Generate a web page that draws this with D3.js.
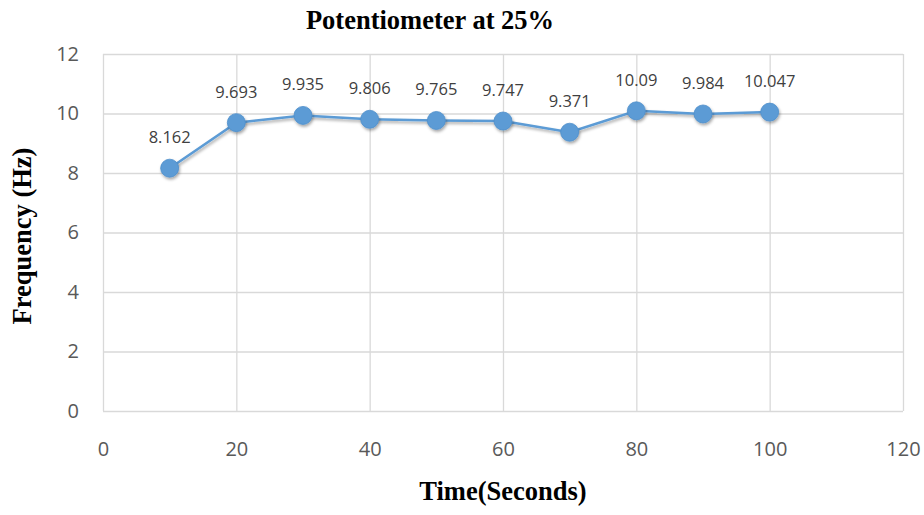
<!DOCTYPE html>
<html>
<head>
<meta charset="utf-8">
<script src="https://cdn.jsdelivr.net/npm/d3@7"></script>
<style>
  body { margin: 0; background: #fff; }
</style>
</head>
<body>
<div id="chart"></div>
<script>
// Chart data
const times = [10, 20, 30, 40, 50, 60, 70, 80, 90, 100];
const frequencies = [8.162, 9.693, 9.935, 9.806, 9.765, 9.747, 9.371, 10.09, 9.984, 10.047];
const xTicks = [0, 20, 40, 60, 80, 100, 120];
const yTicks = [0, 2, 4, 6, 8, 10, 12];

const data = times.map((t, i) => ({ t: t, f: frequencies[i] }));

// Dimensions
const W = 924, H = 515;
const margin = { top: 54, right: 21, bottom: 104, left: 103 };
const width = W - margin.left - margin.right;
const height = H - margin.top - margin.bottom;

const svg = d3
  .select("#chart")
  .append("svg")
  .attr("width", W)
  .attr("height", H);

const defs = svg.append("defs");
const shadow = defs.append("filter").attr("id", "shadow")
  .attr("x", "-50%").attr("y", "-50%").attr("width", "200%").attr("height", "200%");
shadow.append("feDropShadow")
  .attr("dx", 1).attr("dy", 2).attr("stdDeviation", 1.5)
  .attr("flood-color", "#000").attr("flood-opacity", 0.35);

const g = svg.append("g").attr("transform", `translate(${margin.left},${margin.top})`);

// Scales
const x = d3.scaleLinear().domain([0, 120]).range([0, width]);
const y = d3.scaleLinear().domain([0, 12]).range([height, 0]);

// Gridlines
g.append("g")
  .call(d3.axisLeft(y).tickValues(yTicks).tickSize(-width).tickFormat(""))
  .call((a) => a.select(".domain").remove())
  .selectAll("line").attr("stroke", "#d9d9d9").attr("stroke-width", 1.3);

g.append("g")
  .attr("transform", `translate(0,${height})`)
  .call(d3.axisBottom(x).tickValues(xTicks).tickSize(height).tickFormat(""))
  .call((a) => a.select(".domain").remove())
  .selectAll("line").attr("stroke", "#d9d9d9").attr("stroke-width", 1.3)
  .attr("y2", -height);

// X axis labels
const xAxis = g.append("g")
  .attr("transform", `translate(0,${height})`)
  .call(d3.axisBottom(x).tickValues(xTicks).tickSize(0).tickPadding(31));
xAxis.select(".domain").remove();
xAxis.selectAll("text")
  .style("font-family", "'Open Sans', sans-serif")
  .style("font-size", "20px")
  .attr("fill", "#595959");

// Y axis labels
const yAxis = g.append("g")
  .call(d3.axisLeft(y).tickValues(yTicks).tickSize(0).tickPadding(24));
yAxis.select(".domain").remove();
yAxis.selectAll("text")
  .style("font-family", "'Open Sans', sans-serif")
  .style("font-size", "20px")
  .attr("fill", "#595959");

// Line
const line = d3.line().x((d) => x(d.t)).y((d) => y(d.f));
g.append("path")
  .datum(data)
  .attr("fill", "none")
  .attr("stroke", "#5b9bd5")
  .attr("stroke-width", 2.5)
  .attr("filter", "url(#shadow)")
  .attr("d", line);

// Markers
g.selectAll(".dot")
  .data(data)
  .enter()
  .append("circle")
  .attr("class", "dot")
  .attr("cx", (d) => x(d.t))
  .attr("cy", (d) => y(d.f))
  .attr("r", 9)
  .attr("fill", "#5b9bd5")
  .attr("stroke", "#4f8fcb")
  .attr("stroke-width", 0.8)
  .attr("filter", "url(#shadow)");

// Data labels
g.selectAll(".lbl")
  .data(data)
  .enter()
  .append("text")
  .attr("class", "lbl")
  .attr("x", (d) => x(d.t))
  .attr("y", (d) => y(d.f) - 25)
  .attr("text-anchor", "middle")
  .style("font-family", "'Open Sans', sans-serif")
  .style("font-size", "16.5px")
  .attr("fill", "#404040")
  .text((d) => d.f);

const serif = "'Liberation Serif', 'Times New Roman', serif";

// Title
svg.append("text")
  .attr("x", 430)
  .attr("y", 29)
  .attr("text-anchor", "middle")
  .style("font-family", serif)
  .style("font-size", "26.5px")
  .style("font-weight", "bold")
  .text("Potentiometer at 25%");

// X axis title
svg.append("text")
  .attr("x", 503)
  .attr("y", 500)
  .attr("text-anchor", "middle")
  .style("font-family", serif)
  .style("font-size", "26.5px")
  .style("font-weight", "bold")
  .text("Time(Seconds)");

// Y axis title
svg.append("text")
  .attr("transform", "translate(31,236) rotate(-90)")
  .attr("text-anchor", "middle")
  .style("font-family", serif)
  .style("font-size", "26.5px")
  .style("font-weight", "bold")
  .text("Frequency (Hz)");
</script>
</body>
</html>
